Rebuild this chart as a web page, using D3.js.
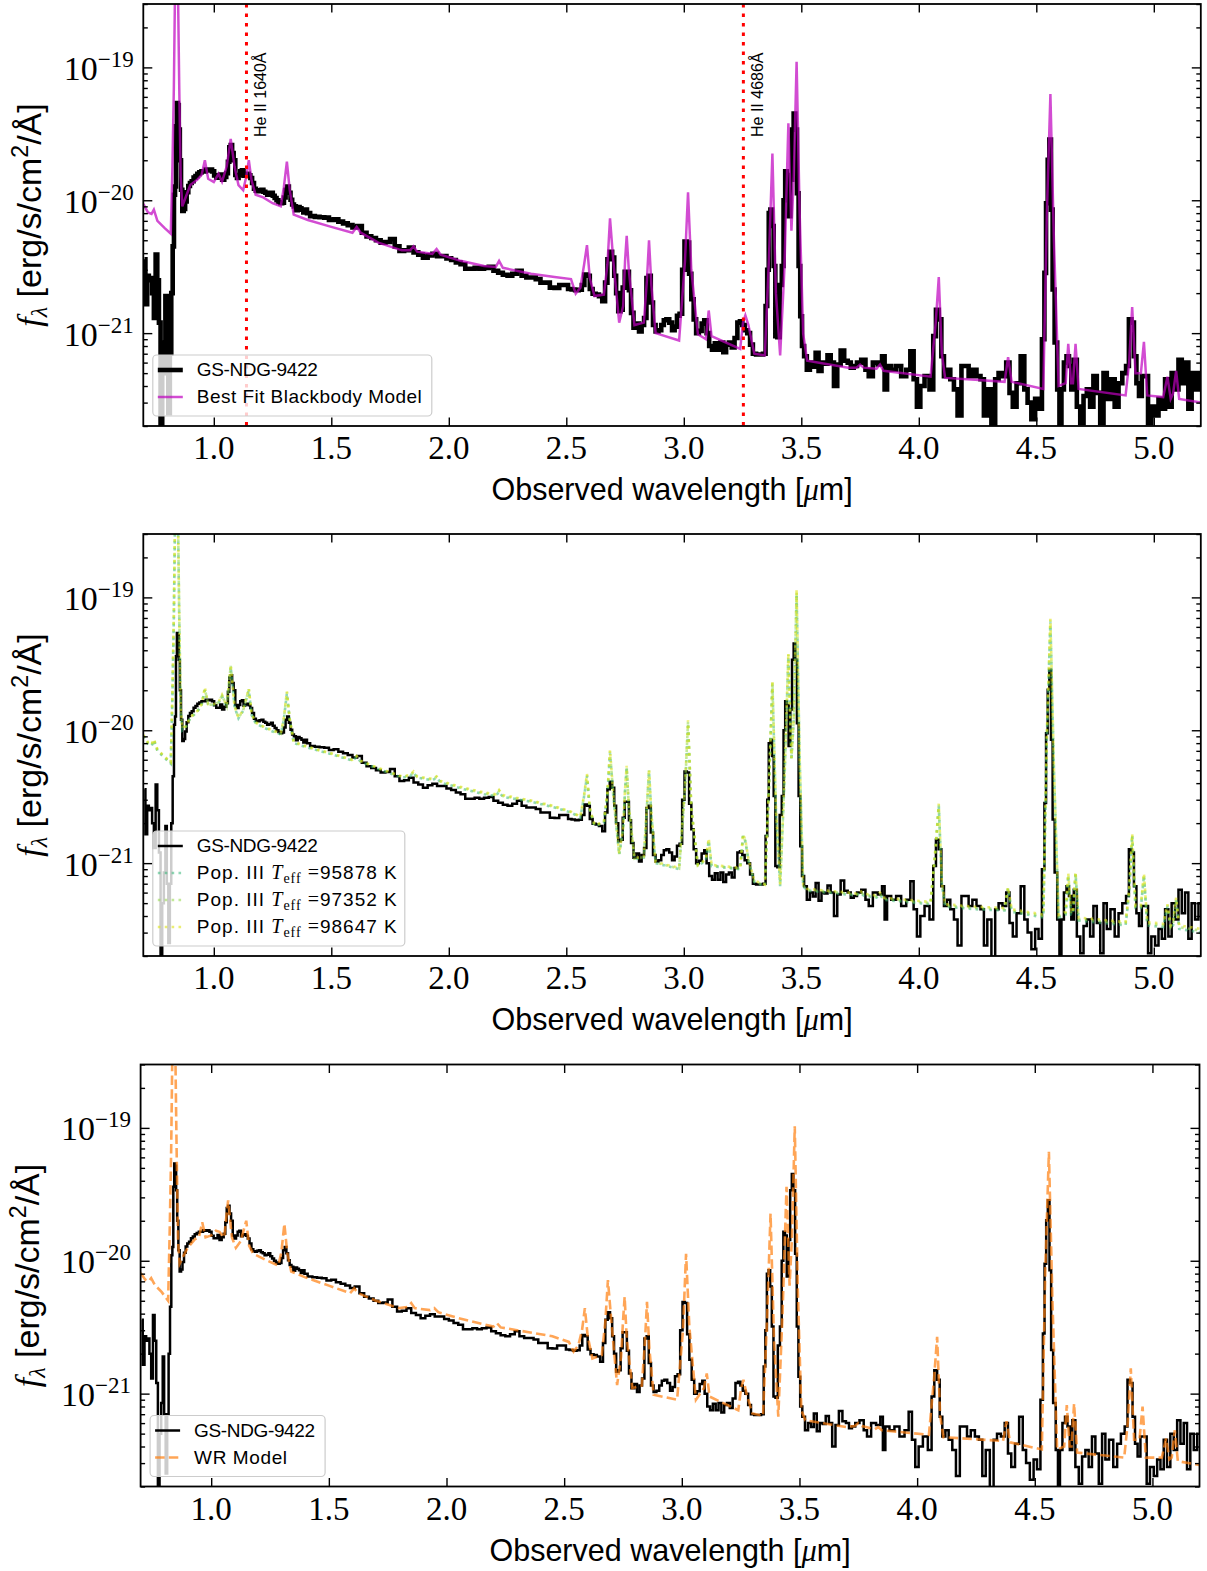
<!DOCTYPE html>
<html><head><meta charset="utf-8">
<script src="https://cdn.jsdelivr.net/npm/d3@7"></script>
<style>body{margin:0;background:#fff}svg{display:block}</style>
</head><body>
<svg id="fig" width="1207" height="1571"></svg>
<script>
// ---------- DATA (flux in units of 1e-21 erg/s/cm^2/Å, wavelength in µm) ----------
const xDomain = [0.7, 5.2];
const yDomain = [0.2, 300];
const xTicks = [1.0, 1.5, 2.0, 2.5, 3.0, 3.5, 4.0, 4.5, 5.0];
const xTickLabels = ["1.0", "1.5", "2.0", "2.5", "3.0", "3.5", "4.0", "4.5", "5.0"];
const yMajor = [1, 10, 100];
const yTickExponents = ["\u221221", "\u221220", "\u221219"];
const yMinor = [0.2,0.3,0.4,0.5,0.6,0.7,0.8,0.9,2,3,4,5,6,7,8,9,20,30,40,50,60,70,80,90,200,300];

const heLineWave = [1.139, 3.2535];
const heLineLabels = ["He II 1640\u00c5", "He II 4686\u00c5"];

const obsName = "GS-NDG-9422";
const bbName = "Best Fit Blackbody Model";
const popTemps = ["95878", "97352", "98647"];
const wrName = "WR Model";

const obsWave = [
0.705,0.713,0.720,0.727,0.734,0.741,0.749,0.756,0.763,0.770,
0.777,0.784,0.791,0.797,0.803,0.810,0.816,0.822,0.828,0.833,
0.837,0.841,0.845,0.849,0.853,0.858,0.863,0.869,0.875,0.881,
0.888,0.895,0.902,0.910,0.918,0.926,0.934,0.943,0.952,0.961,
0.970,0.979,0.988,0.997,1.006,1.015,1.023,1.031,1.040,1.049,
1.057,1.063,1.069,1.075,1.081,1.088,1.095,1.102,1.109,1.116,
1.123,1.130,1.137,1.145,1.152,1.159,1.167,1.175,1.183,1.191,
1.199,1.207,1.215,1.223,1.231,1.239,1.247,1.255,1.263,1.271,
1.279,1.287,1.295,1.302,1.309,1.316,1.323,1.330,1.337,1.345,
1.353,1.361,1.369,1.377,1.385,1.393,1.40,1.42,1.44,1.46,
1.48,1.50,1.52,1.54,1.56,1.58,1.60,1.62,1.64,1.66,
1.68,1.70,1.72,1.74,1.76,1.78,1.80,1.82,1.84,1.86,
1.88,1.90,1.92,1.94,1.96,1.98,2.00,2.02,2.04,2.06,
2.08,2.10,2.12,2.14,2.16,2.18,2.20,2.22,2.24,2.26,
2.28,2.30,2.32,2.34,2.36,2.38,2.40,2.42,2.44,2.46,
2.48,2.50,2.515,2.53,2.545,2.56,2.572,2.582,2.594,2.606,
2.618,2.632,2.646,2.66,2.67,2.68,2.69,2.70,2.708,2.716,
2.726,2.736,2.744,2.753,2.762,2.771,2.78,2.792,2.804,2.815,
2.826,2.836,2.846,2.855,2.864,2.874,2.886,2.898,2.91,2.92,
2.932,2.944,2.956,2.966,2.976,2.988,2.998,3.008,3.018,3.027,
3.037,3.047,3.058,3.07,3.082,3.092,3.102,3.114,3.126,3.138,
3.15,3.162,3.174,3.186,3.198,3.21,3.222,3.234,3.244,3.254,
3.264,3.276,3.288,3.30,3.315,3.33,3.344,3.352,3.358,3.365,
3.372,3.379,3.386,3.393,3.403,3.413,3.421,3.428,3.435,3.442,
3.45,3.457,3.464,3.471,3.478,3.485,3.492,3.499,3.507,3.517,
3.53,3.543,3.555,3.567,3.58,3.592,3.605,3.618,3.632,3.646,
3.66,3.675,3.69,3.705,3.716,3.730,3.744,3.766,3.780,3.794,
3.815,3.836,3.851,3.858,3.872,3.893,3.914,3.936,3.957,3.971,
3.985,3.999,4.014,4.035,4.056,4.067,4.079,4.091,4.101,4.113,
4.127,4.141,4.158,4.172,4.191,4.205,4.219,4.237,4.254,4.271,
4.283,4.30,4.318,4.332,4.347,4.365,4.379,4.393,4.407,4.425,
4.442,4.456,4.47,4.488,4.502,4.517,4.531,4.538,4.545,4.552,
4.559,4.566,4.573,4.583,4.595,4.602,4.612,4.623,4.634,4.644,
4.654,4.665,4.68,4.694,4.708,4.722,4.736,4.75,4.765,4.779,
4.793,4.807,4.824,4.843,4.857,4.875,4.889,4.899,4.911,4.92,
4.932,4.942,4.956,4.97,4.981,4.998,5.013,5.027,5.041,5.055,
5.069,5.083,5.098,5.112,5.126,5.14,5.154,5.168,5.183,5.197];
const obsFlux = [
3.6,1.65,2.7,2.5,2.6,2.0,1.3,3.9,2.5,1.2,
0.15,0.5,0.85,1.9,0.7,0.25,0.7,2.0,4.5,11,
12.7,36,54,52,34,20,12,8.3,8.6,9.8,
11.5,12.8,13.5,13.9,14.8,15.2,15.8,16.2,16.5,16.5,
17,16.8,17,16.5,15.4,14.8,14.8,15.6,14.3,15,
16,19.5,25,26,22.7,20,15.5,14.7,15.5,16.5,
16.8,15.3,15.6,15.8,15.4,14.7,13.5,12.2,11.8,11.7,
11.9,12,11.6,11.4,11,11.1,11.4,10.8,10.4,10,
9.7,9.5,9.6,10.5,12,12.7,11.4,10.1,9.3,9,
8.4,8.9,8.7,8.5,8.1,8.5,8.0,7.6,7.5,7.45,
7.4,7.1,7.2,6.9,6.7,6.5,6.25,6.4,5.7,5.35,
5.2,5.0,4.8,4.85,5.1,4.5,4.15,4.2,4.4,4.05,
3.9,3.7,3.85,3.95,3.8,3.8,3.65,3.55,3.4,3.3,
3.05,3.05,3.1,3.05,3.1,3.15,2.95,2.85,2.75,2.7,
2.8,2.95,2.7,2.62,2.62,2.55,2.4,2.4,2.2,2.19,
2.3,2.3,2.15,2.13,2.1,2.12,2.3,2.76,2.7,2.15,
1.98,1.95,1.9,1.74,2.4,3.6,4.1,3.7,2.7,2.0,
1.46,1.5,2.2,2.9,2.9,2.1,1.42,1.1,1.18,1.03,
1.15,1.3,2.6,2.7,1.7,1.15,1.03,1.05,1.15,1.25,
1.27,1.2,1.05,1.12,1.35,1.4,3.0,4.9,4.8,2.8,
1.8,1.27,1.0,1.04,1.18,1.25,1.0,0.8,0.75,0.84,
0.75,0.85,0.72,0.82,0.85,0.78,0.92,1.2,1.23,1.15,
1.05,1.0,0.82,0.7,0.69,0.69,0.7,1.6,3.0,8.0,
8.5,6.4,3.2,0.95,0.93,2.3,3.2,10,16.5,15.5,
7.6,14.3,34,45,34,11.3,3.2,1.34,0.8,0.67,
0.53,0.6,0.56,0.71,0.52,0.6,0.59,0.68,0.6,0.4,
0.58,0.74,0.62,0.6,0.55,0.565,0.60,0.63,0.53,0.475,
0.60,0.58,0.67,0.377,0.565,0.53,0.565,0.475,0.53,0.73,
0.45,0.28,0.40,0.475,0.377,0.95,1.5,1.27,0.67,0.475,
0.53,0.45,0.377,0.24,0.565,0.565,0.475,0.53,0.475,0.45,
0.24,0.377,0.17,0.45,0.5,0.475,0.6,0.355,0.28,0.42,
0.67,0.377,0.3,0.225,0.32,0.27,0.9,2.84,9.5,20.2,
28.6,8.5,2.13,0.85,0.377,0.17,0.377,0.6,0.67,0.565,
0.377,0.63,0.28,0.21,0.336,0.377,0.28,0.475,0.355,0.21,
0.5,0.32,0.45,0.28,0.42,0.5,0.565,1.27,1.2,0.67,
0.42,0.336,0.475,0.475,0.21,0.28,0.24,0.32,0.27,0.45,
0.28,0.5,0.377,0.63,0.42,0.6,0.27,0.5,0.377,0.5];

const modelWave = [
0.70,0.72,0.735,0.745,0.76,0.79,0.817,0.824,0.83,0.841,
0.853,0.859,0.866,0.88,0.90,0.93,0.948,0.962,0.976,1.00,
1.02,1.035,1.055,1.072,1.088,1.105,1.125,1.138,1.149,1.161,
1.178,1.21,1.25,1.285,1.298,1.311,1.323,1.34,1.40,1.50,
1.59,1.608,1.625,1.70,1.80,1.835,1.85,1.865,1.93,1.948,
1.965,2.05,2.15,2.20,2.214,2.23,2.35,2.45,2.52,2.54,
2.56,2.576,2.588,2.60,2.62,2.66,2.675,2.686,2.70,2.725,
2.742,2.75,2.757,2.766,2.79,2.83,2.843,2.852,2.862,2.88,
2.98,3.005,3.018,3.032,3.06,3.094,3.106,3.118,3.24,3.252,
3.262,3.275,3.30,3.345,3.362,3.377,3.392,3.41,3.428,3.445,
3.458,3.468,3.48,3.493,3.508,3.525,3.70,3.735,3.75,3.765,
3.82,3.835,3.85,4.05,4.072,4.085,4.098,4.112,4.24,4.365,
4.38,4.395,4.53,4.545,4.56,4.575,4.595,4.625,4.636,4.648,
4.656,4.667,4.68,4.88,4.895,4.908,4.922,4.945,4.958,4.972,
5.04,5.058,5.072,5.082,5.095,5.108,5.20];

const bbFlux = [
9.4,8.1,7.9,8.5,7.0,6.2,5.6,18,70,3000,
70,15,9.0,10.5,13.0,14.3,15.5,20,14.5,13.7,
15.8,13.8,18,29,18,13,11.9,15,20,14,
11.0,10.5,9.5,9.0,12.5,19.5,12,7.8,7.1,6.3,
5.7,6.3,5.7,4.8,4.2,4.2,4.5,4.1,3.95,4.3,
3.9,3.5,3.2,3.15,3.5,3.1,2.8,2.65,2.55,1.98,
2.2,3.3,4.6,2.6,1.9,1.95,3.3,7.3,3.5,1.2,
1.6,3.5,5.4,3.0,1.15,1.2,2.5,5.0,2.3,1.0,
0.88,3.5,11.5,3.0,0.98,0.9,1.48,0.95,0.76,1.2,
1.36,1.15,0.7,0.68,3.5,22.5,2.0,0.68,3.0,38,
5.9,15,110,8,0.99,0.62,0.55,0.55,0.58,0.55,
0.54,0.58,0.52,0.47,1.2,2.64,0.7,0.46,0.445,0.43,
0.66,0.43,0.38,8,63,5,0.4,0.42,0.83,0.42,
0.42,0.83,0.38,0.34,0.6,1.57,0.5,0.5,0.86,0.34,
0.33,0.47,0.32,0.35,0.52,0.32,0.3];

const pop1Flux = [
9.0,7.9,7.6,8.4,7.0,6.2,5.6,18,70,3000,
70,14,10,10.5,12.3,13.8,15.5,20,15.5,15.5,
16,18,15,30,15,12.3,14,17,20,13,
11.3,10.5,9.8,9.3,12,19,12,8.0,7.4,6.6,
5.9,6.3,5.8,5.1,4.4,4.5,4.8,4.4,4.2,4.4,
4.05,3.65,3.3,3.2,3.45,3.15,2.9,2.62,2.4,2.3,
2.2,3.2,4.5,2.5,1.9,2.0,3.3,6.7,3.2,1.16,
1.8,3.5,5.2,2.6,1.07,1.1,2.6,4.9,2.3,1.0,
0.9,3.5,11.3,2.5,0.95,1.05,1.46,0.95,0.9,1.6,
1.45,1.05,0.72,0.67,3.5,22,2.5,0.67,4.0,36,
6,12,105,6,0.67,0.62,0.58,0.57,0.6,0.57,
0.55,0.58,0.53,0.49,1.3,2.7,0.7,0.47,0.45,0.44,
0.64,0.43,0.39,9,65,5,0.39,0.41,0.8,0.41,
0.41,0.82,0.37,0.34,0.6,1.6,0.46,0.46,0.8,0.34,
0.33,0.47,0.32,0.34,0.53,0.32,0.3];

const pop2Flux = [
9.1,8.0,7.7,8.5,7.1,6.3,5.7,19,72,3100,
72,14.5,10.2,10.6,12.4,13.9,15.6,20.5,15.6,15.6,
16.2,18.3,15.2,30.5,15.2,12.4,14.1,17.2,20.3,13.2,
11.4,10.6,9.9,9.4,12.2,19.3,12.1,8.1,7.45,6.65,
5.95,6.35,5.85,5.15,4.45,4.55,4.85,4.45,4.25,4.45,
4.1,3.7,3.35,3.25,3.5,3.2,2.93,2.65,2.42,2.32,
2.22,3.25,4.6,2.55,1.92,2.02,3.35,6.9,3.25,1.17,
1.82,3.55,5.3,2.65,1.08,1.11,2.65,5.0,2.32,1.01,
0.91,3.6,11.6,2.55,0.96,1.06,1.5,0.96,0.91,1.62,
1.47,1.06,0.73,0.68,3.6,22.8,2.55,0.68,4.1,37,
6.1,12.3,110,6.1,0.68,0.63,0.59,0.58,0.61,0.58,
0.56,0.59,0.54,0.5,1.32,2.75,0.71,0.48,0.46,0.45,
0.65,0.44,0.4,9.2,67,5.1,0.4,0.42,0.82,0.42,
0.42,0.84,0.38,0.35,0.61,1.63,0.47,0.47,0.82,0.35,
0.34,0.48,0.33,0.35,0.54,0.33,0.31];

const pop3Flux = [
9.2,8.1,7.8,8.6,7.2,6.35,5.75,19.5,74,3200,
74,14.8,10.4,10.7,12.5,14.0,15.7,21,15.7,15.7,
16.3,18.5,15.3,31,15.3,12.5,14.2,17.4,20.6,13.3,
11.5,10.7,10.0,9.5,12.3,19.6,12.2,8.2,7.5,6.7,
6.0,6.4,5.9,5.2,4.5,4.6,4.9,4.5,4.3,4.5,
4.15,3.75,3.4,3.3,3.55,3.25,2.96,2.68,2.44,2.34,
2.24,3.3,4.7,2.6,1.94,2.04,3.4,7.1,3.3,1.18,
1.84,3.6,5.4,2.7,1.09,1.12,2.7,5.1,2.35,1.02,
0.92,3.7,11.9,2.6,0.97,1.07,1.54,0.97,0.92,1.65,
1.5,1.07,0.74,0.69,3.7,23.5,2.6,0.69,4.2,38,
6.2,12.6,115,6.2,0.69,0.64,0.6,0.59,0.62,0.59,
0.57,0.6,0.55,0.51,1.35,2.8,0.72,0.49,0.47,0.46,
0.66,0.45,0.41,9.4,69,5.2,0.41,0.43,0.84,0.43,
0.43,0.86,0.39,0.36,0.62,1.66,0.48,0.48,0.84,0.36,
0.35,0.49,0.34,0.36,0.55,0.34,0.32];

const wrFlux = [
8.1,7.2,7.0,7.4,6.6,5.8,5.0,18,70,3000,
70,14,9.5,10.7,12.5,14.5,15,19.5,15,15.5,
16.8,16.5,15,28.5,15,12.5,14,17,20,13,
11.3,10.6,9.8,9.2,11.5,19,11.5,8.3,7.5,6.5,
5.7,6.2,5.7,5.0,4.4,4.5,4.8,4.4,4.25,4.4,
4.1,3.7,3.35,3.2,3.4,3.15,2.9,2.7,2.45,2.07,
2.3,3.0,4.4,2.7,1.84,1.95,3.5,7.15,3.6,1.16,
1.9,3.5,5.35,2.6,1.1,1.15,2.4,4.9,2.2,0.98,
0.9,3.0,11.3,3.2,0.9,1.1,1.42,0.95,0.75,1.1,
1.27,1.0,0.71,0.68,3.5,22.7,2.5,0.67,4.0,36,
6.5,15,103,6,0.75,0.63,0.56,0.57,0.6,0.57,
0.54,0.56,0.53,0.49,1.3,2.68,0.68,0.47,0.455,0.44,
0.62,0.43,0.38,9,66,5,0.38,0.4,0.82,0.4,
0.4,0.84,0.36,0.33,0.6,1.55,0.45,0.45,0.8,0.33,
0.33,0.46,0.32,0.33,0.53,0.31,0.29];

// ---------- DRAWING ----------
const SERIF = "'Liberation Serif','DejaVu Serif',serif";
const SANS = "'Liberation Sans','DejaVu Sans',sans-serif";
const svg = d3.select('#fig');
const defs = svg.append('defs');

const panels = [
  {id: 1, left: 143.3, right: 1200.8, top: 4, bottom: 426, obsWidth: 4.6,
   models: [{flux: bbFlux, color: '#bf00bf', opacity: 0.7, width: 2.5, dash: null}],
   vlines: true,
   legend: {w: 279, entries: [
     {type: 'obs', label: obsName, len: 121},
     {type: 'model', m: 0, label: bbName, len: 225}]}},
  {id: 2, left: 143.3, right: 1200.8, top: 534, bottom: 956, obsWidth: 2.5,
   models: [
     {flux: pop1Flux, color: '#35b779', opacity: 0.55, width: 2.6, dash: '2.6,4.3'},
     {flux: pop2Flux, color: '#8fd744', opacity: 0.55, width: 2.6, dash: '2.6,4.3'},
     {flux: pop3Flux, color: '#dde318', opacity: 0.6, width: 2.6, dash: '2.6,4.3'}],
   vlines: false,
   legend: {w: 252, entries: [
     {type: 'obs', label: obsName, len: 121},
     {type: 'model', m: 0, teff: popTemps[0], len: 200},
     {type: 'model', m: 1, teff: popTemps[1], len: 200},
     {type: 'model', m: 2, teff: popTemps[2], len: 200}]}},
  {id: 3, left: 140.6, right: 1199.5, top: 1064.5, bottom: 1486.5, obsWidth: 2.5,
   models: [{flux: wrFlux, color: '#ff7f0e', opacity: 0.7, width: 2.6, dash: '9.5,4.2'}],
   vlines: false,
   legend: {w: 175, entries: [
     {type: 'obs', label: obsName, len: 121},
     {type: 'model', m: 0, label: wrName, len: 93}]}}
];

panels.forEach(p => {
  const g = svg.append('g');
  const x = d3.scaleLinear().domain(xDomain).range([p.left, p.right]);
  const y = d3.scaleLog().domain(yDomain).range([p.bottom, p.top]);
  const clipId = 'clip' + p.id;
  defs.append('clipPath').attr('id', clipId).append('rect')
    .attr('x', p.left).attr('y', p.top).attr('width', p.right - p.left).attr('height', p.bottom - p.top);
  const plot = g.append('g').attr('clip-path', `url(#${clipId})`);

  const obsLine = d3.line().x(d => x(d[0])).y(d => y(d[1])).curve(d3.curveStep);
  const modelLine = d3.line().x(d => x(d[0])).y(d => y(d[1]));

  plot.append('path').datum(d3.zip(obsWave, obsFlux)).attr('d', obsLine)
    .attr('fill', 'none').attr('stroke', '#000').attr('stroke-width', p.obsWidth)
    .attr('stroke-linejoin', 'miter');

  p.models.forEach(m => {
    const path = plot.append('path').datum(d3.zip(modelWave, m.flux)).attr('d', modelLine)
      .attr('fill', 'none').attr('stroke', m.color).attr('stroke-opacity', m.opacity)
      .attr('stroke-width', m.width);
    if (m.dash) path.attr('stroke-dasharray', m.dash);
  });

  if (p.vlines) {
    heLineWave.forEach((w, i) => {
      plot.append('line').attr('x1', x(w)).attr('x2', x(w)).attr('y1', p.top).attr('y2', p.bottom)
        .attr('stroke', '#ff0000').attr('stroke-width', 3).attr('stroke-dasharray', '3.5,6');
      g.append('text').attr('transform', `translate(${x(w) + 20},${p.top + 133}) rotate(-90)`)
        .style('font-family', SANS).style('font-size', '16px').attr('fill', '#000')
        .text(heLineLabels[i]);
    });
  }

  // ticks (inward, all four sides)
  const tickStyle = sel => { sel.select('.domain').remove(); sel.selectAll('line').attr('stroke', '#000').attr('stroke-width', 1.4); };
  g.append('g').attr('transform', `translate(0,${p.bottom})`)
    .call(d3.axisBottom(x).tickValues(xTicks).tickSizeInner(-8.5).tickSizeOuter(0).tickFormat('')).call(tickStyle);
  g.append('g').attr('transform', `translate(0,${p.top})`)
    .call(d3.axisTop(x).tickValues(xTicks).tickSizeInner(-8.5).tickSizeOuter(0).tickFormat('')).call(tickStyle);
  g.append('g').attr('transform', `translate(${p.left},0)`)
    .call(d3.axisLeft(y).tickValues(yMajor).tickSizeInner(-9).tickSizeOuter(0).tickFormat('')).call(tickStyle);
  g.append('g').attr('transform', `translate(${p.left},0)`)
    .call(d3.axisLeft(y).tickValues(yMinor).tickSizeInner(-4.5).tickSizeOuter(0).tickFormat('')).call(tickStyle);
  g.append('g').attr('transform', `translate(${p.right},0)`)
    .call(d3.axisRight(y).tickValues(yMajor).tickSizeInner(-9).tickSizeOuter(0).tickFormat('')).call(tickStyle);
  g.append('g').attr('transform', `translate(${p.right},0)`)
    .call(d3.axisRight(y).tickValues(yMinor).tickSizeInner(-4.5).tickSizeOuter(0).tickFormat('')).call(tickStyle);

  // frame
  g.append('rect').attr('x', p.left).attr('y', p.top).attr('width', p.right - p.left).attr('height', p.bottom - p.top)
    .attr('fill', 'none').attr('stroke', '#000').attr('stroke-width', 1.8);

  // x tick labels
  xTicks.forEach((v, i) => {
    g.append('text').attr('x', x(v)).attr('y', p.bottom + 33).attr('text-anchor', 'middle')
      .style('font-family', SERIF).style('font-size', '33px').text(xTickLabels[i]);
  });
  // y tick labels
  yMajor.forEach((v, i) => {
    const t = g.append('text').attr('x', p.left - 9.5).attr('y', y(v) + 12.5).attr('text-anchor', 'end')
      .style('font-family', SERIF).style('font-size', '34px');
    t.append('tspan').text('10');
    t.append('tspan').attr('dy', -13).style('font-size', '23px').text(yTickExponents[i]);
  });

  // x label
  const xl = g.append('text').attr('x', (p.left + p.right) / 2).attr('y', p.bottom + 74)
    .attr('text-anchor', 'middle').style('font-family', SANS).style('font-size', '30.5px');
  xl.append('tspan').text('Observed wavelength [');
  xl.append('tspan').style('font-family', SERIF).style('font-style', 'italic').text('\u03bc');
  xl.append('tspan').text('m]');

  // y label
  const cy = (p.top + p.bottom) / 2;
  const yl = g.append('text').attr('transform', `translate(${p.left - 102},${cy}) rotate(-90)`)
    .attr('text-anchor', 'middle').style('font-family', SANS).style('font-size', '34px');
  yl.append('tspan').style('font-family', SERIF).style('font-style', 'italic').text('f');
  yl.append('tspan').attr('dy', 6).style('font-family', SERIF).style('font-style', 'italic').style('font-size', '24px').text('\u03bb');
  yl.append('tspan').attr('dy', -6).text(' [erg/s/cm');
  yl.append('tspan').attr('dy', -13).style('font-size', '23px').text('2');
  yl.append('tspan').attr('dy', 13).text('/\u00c5]');

  // legend
  const L = p.legend;
  const n = L.entries.length;
  const bx = p.left + 9.5, bh = 7 + 27 * n, by = p.bottom - 10 - bh;
  const lg = g.append('g');
  lg.append('rect').attr('x', bx).attr('y', by).attr('width', L.w).attr('height', bh)
    .attr('rx', 4).attr('fill', '#fff').attr('fill-opacity', 0.8).attr('stroke', '#cccccc').attr('stroke-width', 1.2);
  L.entries.forEach((e, i) => {
    const base = by + 21 + 27 * i;
    const ly = base - 6;
    if (e.type === 'obs') {
      lg.append('line').attr('x1', bx + 5).attr('x2', bx + 30).attr('y1', ly).attr('y2', ly)
        .attr('stroke', '#000').attr('stroke-width', p.obsWidth);
    } else {
      const m = p.models[e.m];
      const ln = lg.append('line').attr('x1', bx + 5).attr('x2', bx + 30).attr('y1', ly).attr('y2', ly)
        .attr('stroke', m.color).attr('stroke-opacity', m.opacity).attr('stroke-width', m.width);
      if (m.dash) ln.attr('stroke-dasharray', m.dash);
    }
    const t = lg.append('text').attr('x', bx + 44).attr('y', base).style('font-family', SANS).style('font-size', '19px')
      .attr('textLength', e.len).attr('lengthAdjust', 'spacing');
    if (e.teff) {
      t.append('tspan').text('Pop. III ');
      t.append('tspan').style('font-family', SERIF).style('font-style', 'italic').style('font-size', '20px').text('T');
      t.append('tspan').attr('dy', 4).style('font-family', SERIF).style('font-size', '14px').text('eff');
      t.append('tspan').attr('dy', -4).style('font-family', SERIF).style('font-size', '20px').text(' =');
      t.append('tspan').text(e.teff + ' K');
    } else {
      t.text(e.label);
    }
  });
});
</script>
</body></html>
